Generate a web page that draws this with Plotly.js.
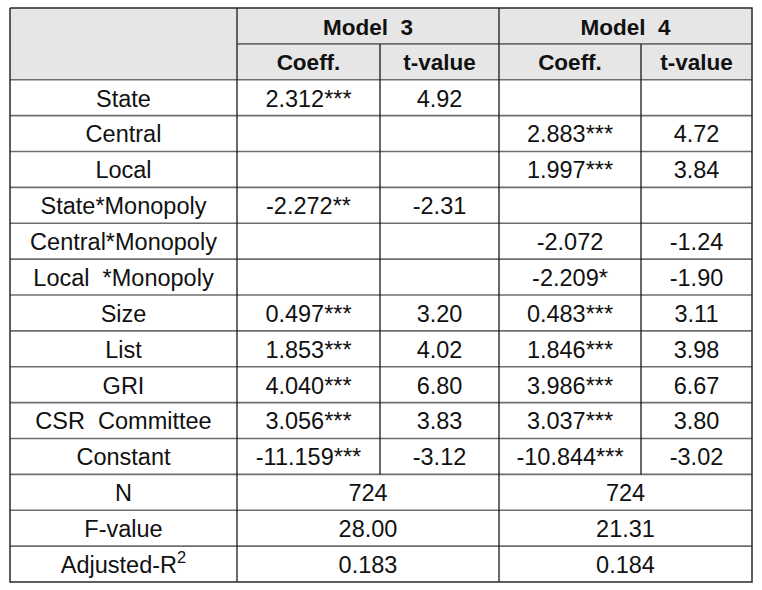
<!DOCTYPE html>
<html>
<head>
<meta charset="utf-8">
<script src="https://cdn.plot.ly/plotly-3.0.1.min.js"></script>
<style>html,body{margin:0;padding:0;background:#fff;}#chart{width:762px;height:590px;}</style>
</head>
<body>
<div id="chart"></div>
<script>
// ---- data ----
const models = ['Model\u00a0 3', 'Model\u00a0 4'];
const subHeaders = ['Coeff.', 't-value'];
const rowLabels = ['State', 'Central', 'Local', 'State*Monopoly', 'Central*Monopoly',
  'Local\u00a0 *Monopoly', 'Size', 'List', 'GRI', 'CSR\u00a0 Committee', 'Constant'];
const m3Coef = ['2.312***', '', '', '-2.272**', '', '', '0.497***', '1.853***', '4.040***', '3.056***', '-11.159***'];
const m3T = ['4.92', '', '', '-2.31', '', '', '3.20', '4.02', '6.80', '3.83', '-3.12'];
const m4Coef = ['', '2.883***', '1.997***', '', '-2.072', '-2.209*', '0.483***', '1.846***', '3.986***', '3.037***', '-10.844***'];
const m4T = ['', '4.72', '3.84', '', '-1.24', '-1.90', '3.11', '3.98', '6.67', '3.80', '-3.02'];
const statLabels = ['N', 'F-value', 'Adjusted-R<sup>2</sup>'];
const m3Stats = ['724', '28.00', '0.183'];
const m4Stats = ['724', '21.31', '0.184'];

// ---- layout geometry (column edges in px units, rows in row units) ----
const edges = [0, 227, 370, 489, 631, 742];
const nHead = 2;
const nBody = rowLabels.length;
const nStat = statLabels.length;
const nRows = nHead + nBody + nStat;
const W = edges[edges.length - 1];
const mid = (a, b) => (a + b) / 2;
const colC = i => mid(edges[i], edges[i + 1]);
const rowPx = 574 / nRows;
const textDrop = 3 / rowPx;   // optical vertical offset of text

const fontFam = '"Liberation Sans", Arial, sans-serif';
const textCol = '#111111';

const traces = [];

// header background
traces.push({
  type: 'scatter', mode: 'none', fill: 'toself', fillcolor: '#e6e6e6',
  x: [0, W, W, 0, 0], y: [0, 0, nHead, nHead, 0], hoverinfo: 'skip'
});

// horizontal inner lines
const hx = [], hy = [];
hx.push(edges[1], W, null); hy.push(1, 1, null);
for (let r = nHead; r < nRows; r++) { hx.push(0, W, null); hy.push(r, r, null); }
traces.push({ type: 'scatter', mode: 'lines', x: hx, y: hy,
  line: { color: '#6e6e6e', width: 1.6 }, hoverinfo: 'skip' });

// vertical inner lines
const vx = [], vy = [];
[1, 3].forEach(i => { vx.push(edges[i], edges[i], null); vy.push(0, nRows, null); });
[2, 4].forEach(i => { vx.push(edges[i], edges[i], null); vy.push(1, nHead + nBody, null); });
traces.push({ type: 'scatter', mode: 'lines', x: vx, y: vy,
  line: { color: '#1a1a1a', width: 1.3 }, hoverinfo: 'skip' });

// outer border
traces.push({ type: 'scatter', mode: 'lines', x: [0, W, W, 0, 0], y: [0, 0, nRows, nRows, 0],
  line: { color: '#2a2a2a', width: 1.5 }, hoverinfo: 'skip' });

// header text
const htx = [], hty = [], htt = [];
models.forEach((m, k) => { htx.push(mid(edges[1 + 2 * k], edges[3 + 2 * k])); hty.push(0.5 + textDrop); htt.push(m); });
for (let k = 0; k < 2; k++) subHeaders.forEach((s, j) => { htx.push(colC(1 + 2 * k + j)); hty.push(1.5 + textDrop); htt.push(s); });
traces.push({ type: 'scatter', mode: 'text', x: htx, y: hty, text: htt,
  textposition: 'middle center', cliponaxis: false,
  textfont: { family: fontFam, size: 22.5, color: textCol, weight: 'bold' }, hoverinfo: 'skip' });

// body text
const btx = [], bty = [], btt = [];
const cols = [rowLabels, m3Coef, m3T, m4Coef, m4T];
cols.forEach((arr, c) => arr.forEach((v, r) => {
  if (v !== '') { btx.push(colC(c)); bty.push(nHead + r + 0.5 + textDrop); btt.push(v); }
}));
statLabels.forEach((v, r) => {
  const y = nHead + nBody + r + 0.5 + textDrop;
  btx.push(colC(0)); bty.push(y); btt.push(v);
  btx.push(mid(edges[1], edges[3])); bty.push(y); btt.push(m3Stats[r]);
  btx.push(mid(edges[3], edges[5])); bty.push(y); btt.push(m4Stats[r]);
});
traces.push({ type: 'scatter', mode: 'text', x: btx, y: bty, text: btt,
  textposition: 'middle center', cliponaxis: false,
  textfont: { family: fontFam, size: 23.5, color: textCol }, hoverinfo: 'skip' });

const pad = 2;
const layout = {
  width: 762, height: 590,
  margin: { l: 8, r: 8, t: 6, b: 6, pad: 0 },
  paper_bgcolor: '#ffffff', plot_bgcolor: '#ffffff',
  showlegend: false, hovermode: false,
  xaxis: { range: [-pad, W + pad], visible: false, fixedrange: true },
  yaxis: { range: [nRows + pad / rowPx, -pad / rowPx], visible: false, fixedrange: true }
};
Plotly.newPlot('chart', traces, layout, { staticPlot: true, displayModeBar: false });
</script>
</body>
</html>
